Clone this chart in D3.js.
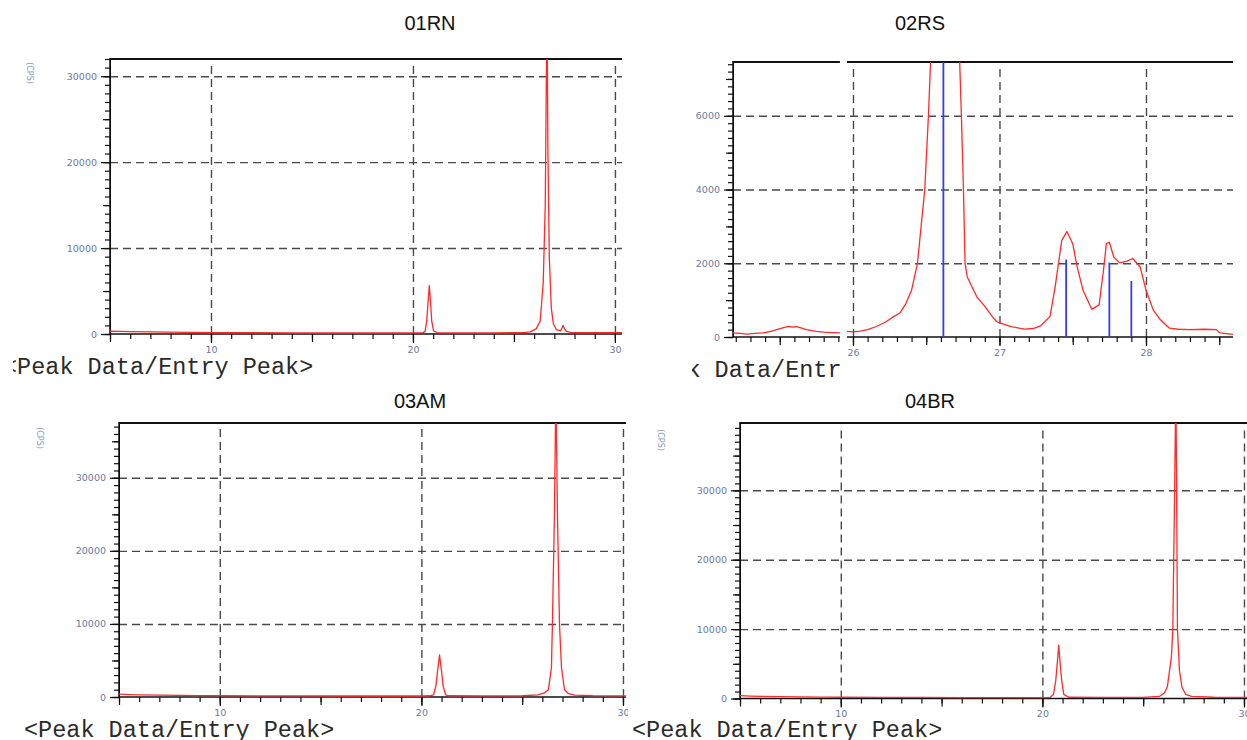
<!DOCTYPE html>
<html><head><meta charset="utf-8">
<script src="https://cdn.jsdelivr.net/npm/d3@7"></script>
<style>body{margin:0;background:#fff}svg{display:block}</style>
</head><body>
<svg id="c" width="1247" height="740"></svg>
<script>
// ---------- data ----------
const titles = ["01RN", "02RS", "03AM", "04BR"];
const footerText = "<Peak Data/Entry Peak>";
const yUnit = "(CPS)";

// 2theta (deg) , intensity (CPS)
const p01 = [[5,320],[5.5,300],[6,270],[7,240],[8,210],[9,190],[10,170],[11,160],[12,150],[14,140],[16,130],[18,130],[20,130],[20.5,160],[20.6,300],[20.68,1500],[20.75,3800],[20.81,5650],[20.87,3700],[20.93,1500],[21.02,350],[21.2,170],[22,140],[24,140],[25.5,170],[25.8,250],[26.1,600],[26.3,1500],[26.45,6000],[26.55,15000],[26.62,34000],[26.65,34000],[26.68,21700],[26.75,9000],[26.85,3000],[26.95,1200],[27.1,500],[27.3,350],[27.38,700],[27.43,1000],[27.5,600],[27.6,300],[27.8,200],[28.5,160],[29.5,150],[30.35,150]];

const p02a = [[25.181,110],[25.23,100],[25.275,80],[25.33,100],[25.39,110],[25.44,150],[25.48,200],[25.52,250],[25.56,290],[25.59,270],[25.615,280],[25.65,240],[25.68,200],[25.72,170],[25.75,150],[25.8,130],[25.85,120],[25.911,110]];
const p02b = [[25.959,150],[26.0,140],[26.05,160],[26.1,200],[26.16,285],[26.22,400],[26.28,560],[26.32,650],[26.36,900],[26.40,1270],[26.44,2000],[26.49,4000],[26.515,6000],[26.55,9500],[26.62,13000],[26.7,11000],[26.74,6000],[26.754,4000],[26.765,2000],[26.78,1630],[26.845,1090],[26.90,830],[26.95,560],[26.98,420],[27.0,380],[27.08,280],[27.17,215],[27.23,230],[27.28,300],[27.345,560],[27.38,1360],[27.425,2620],[27.46,2860],[27.50,2530],[27.53,1900],[27.57,1270],[27.63,750],[27.68,870],[27.71,1810],[27.73,2540],[27.75,2570],[27.78,2170],[27.82,2010],[27.87,2060],[27.91,2130],[27.96,1900],[28.00,1270],[28.05,730],[28.10,460],[28.16,240],[28.22,210],[28.30,200],[28.40,210],[28.48,200],[28.505,110],[28.594,70]];
const p02sticks = [[26.617,20000],[27.455,2100],[27.75,2020],[27.90,1520]];

const p03 = [[5,400],[5.5,330],[6,290],[7,250],[8,220],[9,200],[10,180],[12,160],[14,150],[16,140],[18,140],[20,140],[20.4,170],[20.6,300],[20.72,1500],[20.8,3500],[20.9,5750],[21.0,3500],[21.08,1500],[21.2,300],[21.4,170],[23,150],[25,170],[25.8,280],[26.1,550],[26.3,1000],[26.45,4000],[26.5,10000],[26.6,25000],[26.67,42000],[26.75,25000],[26.85,10000],[26.95,4000],[27.1,1000],[27.3,450],[27.6,250],[28.5,180],[30.15,160]];

const p04 = [[5,400],[5.5,350],[6,300],[7,260],[8,230],[9,200],[10,180],[12,160],[14,150],[16,140],[18,140],[20,140],[20.4,170],[20.55,600],[20.66,2500],[20.75,5500],[20.81,7700],[20.87,5500],[20.96,2500],[21.06,600],[21.3,180],[23,150],[25,160],[25.8,300],[26.05,800],[26.2,1700],[26.4,6000],[26.47,10000],[26.56,30000],[26.62,45000],[26.66,30000],[26.7,10000],[26.8,4000],[26.92,1700],[27.1,600],[27.4,300],[28.5,180],[30.15,170]];

const xLabels01 = [10, 20, 30],   yLabels01 = [0, 10000, 20000, 30000];
const xLabels02 = [26, 27, 28],   yLabels02 = [0, 2000, 4000, 6000];
const xLabels03 = [10, 20, 30],   yLabels03 = [0, 10000, 20000, 30000];
const xLabels04 = [10, 20, 30],   yLabels04 = [0, 10000, 20000, 30000];

// ---------- layout ----------
const svg = d3.select("#c");
const fmt = d3.format("d");
let clipId = 0;
function clipRect(x, y, w, h) {
  const id = "cl" + (clipId++);
  svg.append("clipPath").attr("id", id).append("rect")
    .attr("x", x).attr("y", y).attr("width", w).attr("height", h);
  return `url(#${id})`;
}

function drawPanel(c) {
  const root = svg.append("g");
  if (c.panelClip) root.attr("clip-path", clipRect(...c.panelClip));
  const x = d3.scaleLinear().domain(c.xDom).range([c.x0, c.x1]);
  const y = d3.scaleLinear().domain(c.yDom).range([c.yb, c.yt]);
  const W = c.x1 - c.x0, H = c.yb - c.yt;

  // grid
  const gx = root.append("g").attr("transform", `translate(0,${c.yb})`)
    .call(d3.axisBottom(x).tickValues(c.xLabels).tickSize(-(H - 3)).tickFormat(""));
  const gy = root.append("g").attr("transform", `translate(${c.x0},0)`)
    .call(d3.axisLeft(y).tickValues(c.yLabels.filter(v => v > 0)).tickSize(-W).tickFormat(""));
  [gx, gy].forEach(g => {
    g.select(".domain").remove();
    g.selectAll("line").attr("stroke", "#4a4a4a").attr("stroke-width", 1.4).attr("stroke-dasharray", "8,5");
  });

  // y axis ticks
  const yMinor = d3.range(0, Math.floor(c.yDom[1] / c.yMinor) + 1).map(i => i * c.yMinor);
  const yMid = yMinor.filter(v => v % c.yMid === 0);
  const ya = root.append("g").attr("transform", `translate(${c.x0},0)`);
  ya.append("g").call(d3.axisLeft(y).tickValues(yMinor).tickSize(5).tickSizeOuter(0).tickFormat(""));
  ya.append("g").call(d3.axisLeft(y).tickValues(yMid).tickSize(7).tickFormat("")).select(".domain").remove();
  ya.append("g").call(d3.axisLeft(y).tickValues(c.yLabels).tickSize(9).tickPadding(4).tickFormat(fmt)).select(".domain").remove();

  // x axis ticks
  const xMinor = d3.range(Math.ceil(c.xDom[0] / c.xMinor - 1e-6), Math.floor(c.xDom[1] / c.xMinor + 1e-6) + 1)
    .map(i => +(i * c.xMinor).toFixed(3));
  const xMid = xMinor.filter(v => Math.abs(v / c.xMid - Math.round(v / c.xMid)) < 1e-6);
  const xa = root.append("g").attr("transform", `translate(0,${c.yb})`);
  xa.append("g").call(d3.axisBottom(x).tickValues(xMinor).tickSize(5).tickFormat(""));
  xa.append("g").call(d3.axisBottom(x).tickValues(xMid).tickSize(8).tickFormat(""));
  xa.append("g").call(d3.axisBottom(x).tickValues(c.xLabels).tickSize(9).tickPadding(3).tickFormat(fmt));
  xa.selectAll(".domain").remove();

  root.selectAll(".tick line").filter(function(){ return !this.getAttribute("stroke-dasharray"); })
    .attr("stroke", "#111").attr("stroke-width", 1.2);
  root.selectAll(".tick text").attr("fill", "#6c7a9c")
    .style("font-family", "DejaVu Sans, Verdana, sans-serif").style("font-size", "9.5px");

  // axis lines (segments allow the spliced panel)
  c.segments.forEach(s => {
    root.append("line").attr("x1", x(s[0])).attr("x2", x(s[1])).attr("y1", c.yb).attr("y2", c.yb)
      .attr("stroke", "#111").attr("stroke-width", 1.5);
    root.append("line").attr("x1", x(s[0])).attr("x2", x(s[1])).attr("y1", c.yt).attr("y2", c.yt)
      .attr("stroke", "#111").attr("stroke-width", 2.2);
  });
  root.append("line").attr("x1", c.x0).attr("x2", c.x0).attr("y1", c.yb).attr("y2", c.yt - 1)
    .attr("stroke", "#111").attr("stroke-width", 1.5);

  // data
  const plot = root.append("g").attr("clip-path", clipRect(c.x0, c.yt, W, H + 1));
  const line = d3.line().x(d => x(d[0])).y(d => y(d[1]));
  if (c.sticks) {
    plot.selectAll(".stick").data(c.sticks).join("line")
      .attr("x1", d => x(d[0])).attr("x2", d => x(d[0]))
      .attr("y1", y(0)).attr("y2", d => y(d[1]))
      .attr("stroke", "#3838ff").attr("stroke-width", 1.8);
  }
  c.series.forEach(s => {
    plot.append("path").datum(s).attr("d", line).attr("fill", "none")
      .attr("stroke", "#ff2a2a").attr("stroke-width", 1.3).attr("stroke-linejoin", "round");
  });

  // title
  svg.append("text").attr("x", c.title[1]).attr("y", c.title[2]).attr("text-anchor", "middle")
    .style("font-family", "Liberation Sans, Arial, sans-serif").style("font-size", "20px")
    .attr("fill", "#111").text(c.title[0]);

  // unit label
  if (c.cps) {
    root.append("text").attr("transform", `translate(${c.cps[0]},${c.cps[1]}) rotate(90)`)
      .attr("text-anchor", "middle").attr("fill", "#8c97b6")
      .style("font-family", "DejaVu Sans, sans-serif").style("font-size", "8px").text(yUnit);
  }

  // footer text
  const f = root.append("g");
  if (c.footClip) f.attr("clip-path", clipRect(...c.footClip));
  if (c.footBg) f.append("rect").attr("x", c.footBg[0]).attr("y", c.footBg[1])
    .attr("width", c.footBg[2]).attr("height", c.footBg[3]).attr("fill", "#fff");
  f.append("text").attr("x", c.foot[0]).attr("y", c.foot[1]).attr("fill", "#2a2a2a")
    .style("font-family", "Liberation Mono, Courier New, monospace").style("font-size", "23.5px")
    .text(footerText);
}

drawPanel({
  title: [titles[0], 430, 30], xDom: [5, 30.35], yDom: [0, 32000],
  x0: 110, x1: 622, yb: 334, yt: 59, xMinor: 1, xMid: 5, yMinor: 1000, yMid: 5000,
  xLabels: xLabels01, yLabels: yLabels01, segments: [[5, 30.35]], series: [p01],
  cps: [27, 73], foot: [3, 374], footClip: [13, 340, 400, 50], footBg: [0, 356, 400, 30]
});
drawPanel({
  title: [titles[1], 920, 30], xDom: [25.181, 28.594], yDom: [0, 7460],
  x0: 733, x1: 1233, yb: 337, yt: 62, xMinor: 0.1, xMid: 0.5, yMinor: 200, yMid: 1000,
  xLabels: xLabels02, yLabels: yLabels02, segments: [[25.181, 25.911], [25.959, 28.594]],
  series: [p02a, p02b], sticks: p02sticks,
  foot: [630, 377], footClip: [692, 340, 148, 50]
});
drawPanel({
  title: [titles[2], 420, 408], xDom: [5, 30.15], yDom: [0, 37500],
  x0: 119, x1: 626, yb: 697, yt: 423, xMinor: 1, xMid: 5, yMinor: 1000, yMid: 5000,
  xLabels: xLabels03, yLabels: yLabels03, segments: [[5, 30.15]], series: [p03],
  cps: [37, 438], foot: [24, 737], panelClip: [0, 380, 628, 360]
});
drawPanel({
  title: [titles[3], 930, 408], xDom: [5, 30.15], yDom: [0, 39700],
  x0: 740, x1: 1247, yb: 698.5, yt: 423, xMinor: 1, xMid: 5, yMinor: 1000, yMid: 5000,
  xLabels: xLabels04, yLabels: yLabels04, segments: [[5, 30.15]], series: [p04],
  cps: [658, 440], foot: [632, 737]
});
</script>
</body></html>
